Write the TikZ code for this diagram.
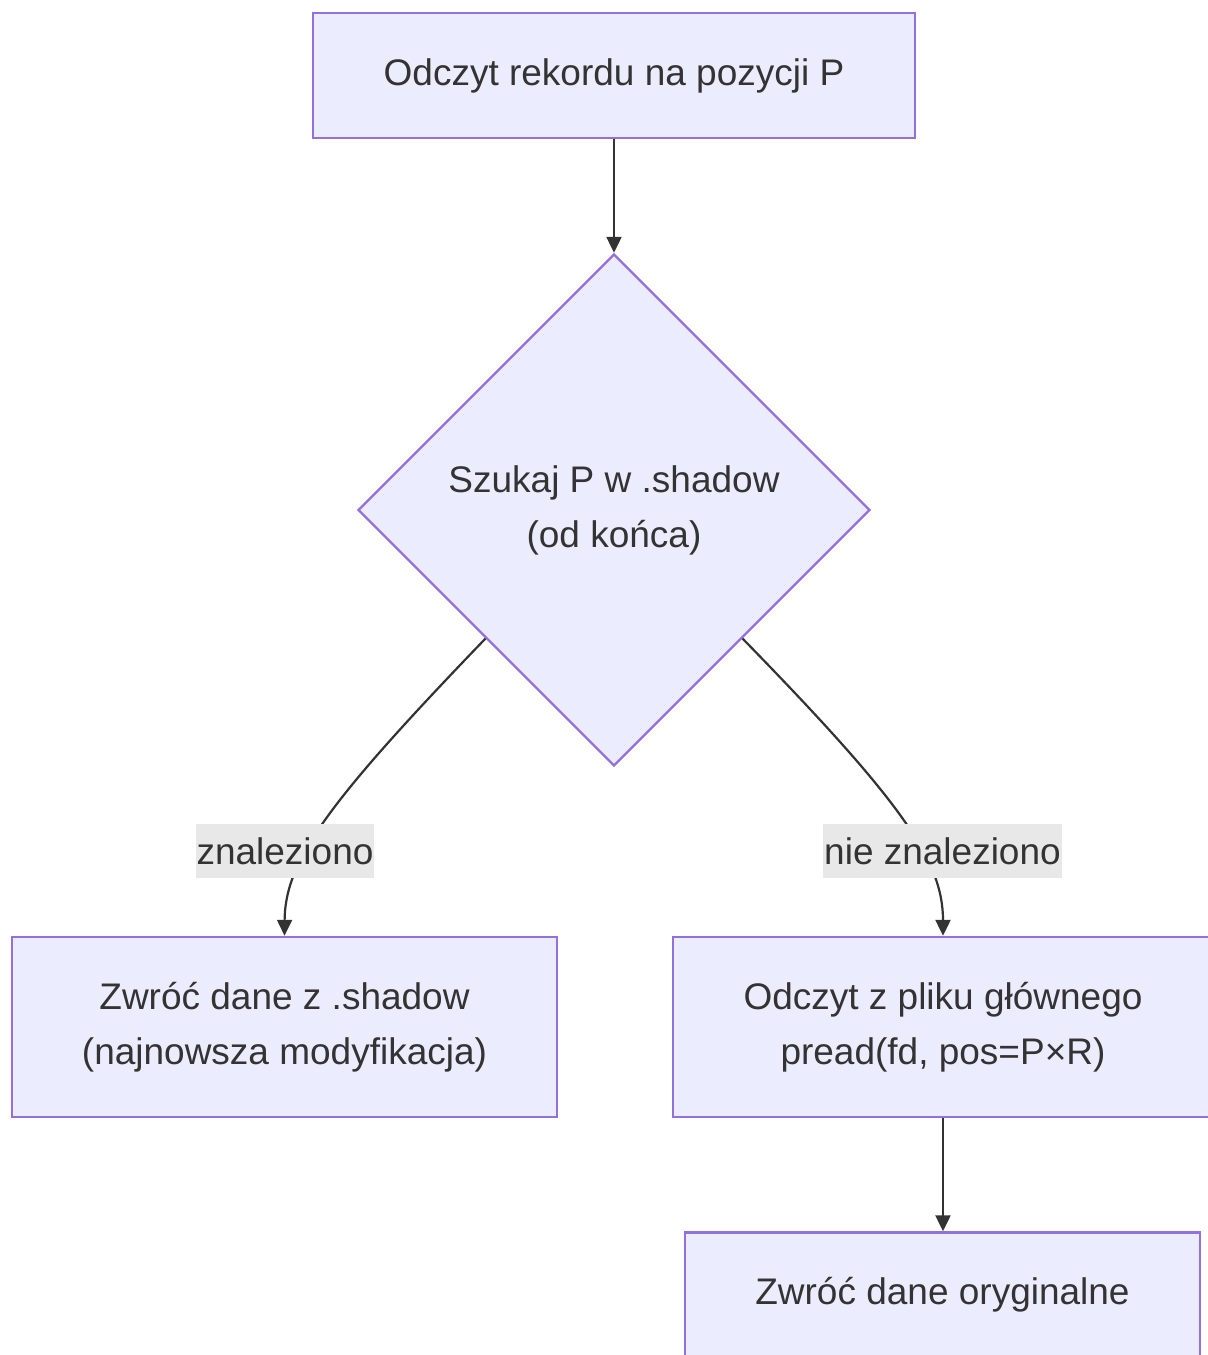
\documentclass[tikz,border=0pt]{standalone}
\usepackage{fontspec}
\setmainfont{Liberation Sans}
\usetikzlibrary{shapes.geometric,arrows.meta}
\definecolor{boxfill}{HTML}{ECECFF}
\definecolor{boxline}{HTML}{9370DB}
\definecolor{ink}{HTML}{333333}
\definecolor{tagfill}{HTML}{E8E8E8}
\begin{document}
\begin{tikzpicture}[x=0.5pt,y=-0.5pt,
  every node/.style={font=\fontsize{18.5pt}{27.5pt}\selectfont, text=ink},
  procbox/.style={draw=boxline, fill=boxfill, line width=1.2pt, rectangle,
    inner sep=0pt, align=center},
  decision/.style={draw=boxline, fill=boxfill, line width=1.2pt, diamond,
    inner sep=0pt, minimum width=256pt, minimum height=256pt, align=center},
  tag/.style={fill=tagfill, inner xsep=0.5pt, inner ysep=0pt,
    minimum height=27pt},
  flow/.style={draw=ink, line width=1.1pt,
    -{Triangle[length=8pt,width=7.5pt]}}]
\clip (0,0) rectangle (1208,1355);

\node[procbox, minimum width=301pt, minimum height=62.5pt] (read) at (614,75.5)
  {Odczyt rekordu na pozycji P};
\node[decision] (search) at (614,510) {Szukaj P w .shadow\\(od końca)};
\node[procbox, minimum width=272.5pt, minimum height=90pt] (shadow) at (284.5,1027)
  {Zwróć dane z .shadow\\(najnowsza modyfikacja)};
\node[procbox, minimum width=270pt, minimum height=90pt] (main) at (943,1027)
  {Odczyt z pliku głównego\\pread(fd, pos=P×R)};
\node[procbox, minimum width=257.5pt, minimum height=62.5pt] (orig) at (942.5,1295)
  {Zwróć dane oryginalne};

\draw[flow] (read.south) -- (search.north);
\draw[flow] (search.south west) .. controls (330,800) and (285,860) .. (shadow.north);
\draw[flow] (search.south east) .. controls (900,800) and (943,860) .. (main.north);
\draw[flow] (main.south) -- (orig.north -| main.south);

\node[tag] (found) at (285,851) {znaleziono};
\node[tag] (notfound) at (942.5,851) {nie znaleziono};
\end{tikzpicture}
\end{document}
